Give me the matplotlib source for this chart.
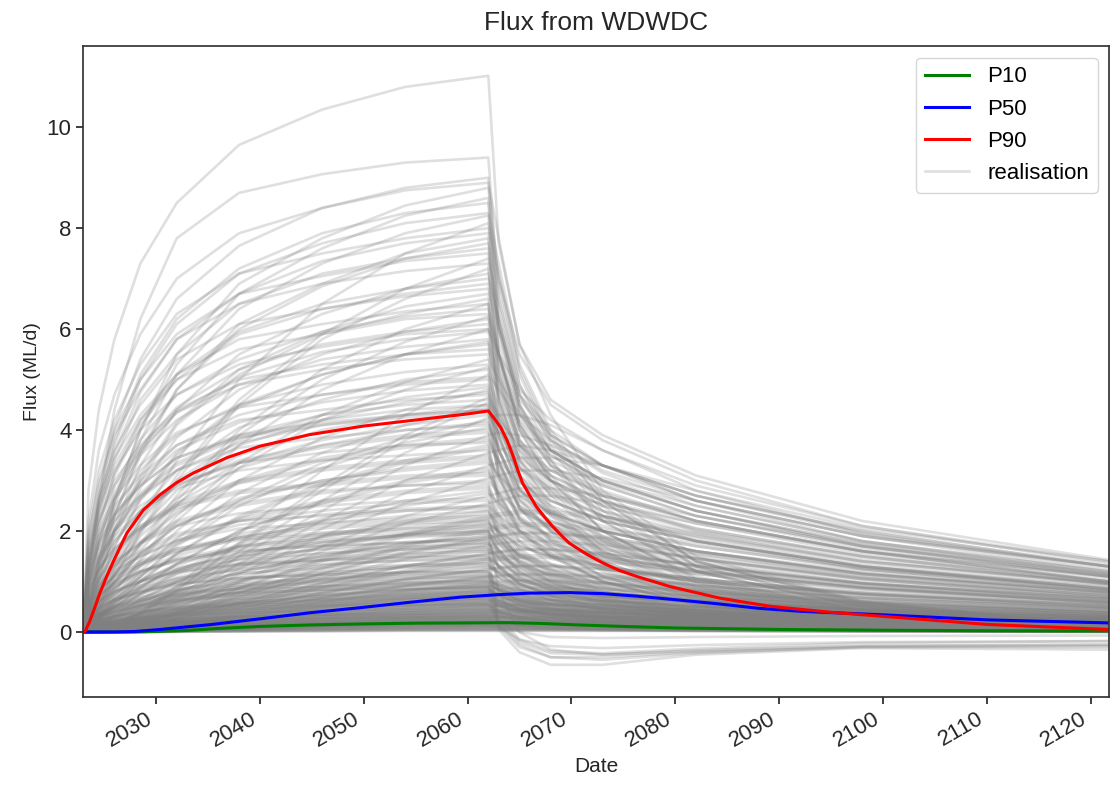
import numpy as np
import pandas as pd
import matplotlib
matplotlib.use('Agg')
import matplotlib.pyplot as plt
import matplotlib.dates as mdates

plt.rcParams['font.family'] = ['Liberation Sans', 'DejaVu Sans']

# sample times (decimal years) shared by every realisation
real_years = [2023.0, 2023.5, 2024.5, 2026, 2028.5, 2032, 2038, 2046, 2054, 2062,
              2063, 2065, 2068, 2073, 2082, 2098, 2121.7]

# flux (ML/d) of each realisation at real_years
realisations = [
    [0, 2.8, 4.4, 5.8, 7.3, 8.5, 9.65, 10.35, 10.8, 11.02, 7.7, 5.7, 4.6, 3.9, 3.1, 2.2, 1.43],
    [0, 1.1, 2.6, 4.4, 6.2, 7.8, 8.7, 9.07, 9.3, 9.4, 6.6, 4.9, 3.9, 3.3, 2.6, 1.9, 1.2],
    [0, 1.35, 2.7, 4.05, 5.4, 6.6, 7.65, 8.4, 8.8, 9.0, 6.3, 4.7, 3.8, 3.15, 2.5, 1.8, 1.2],
    [0, 2.2, 3.6, 4.7, 5.9, 7.0, 7.9, 8.4, 8.75, 8.9, 7.8, 5.7, 4.3, 2.8, 1.5, .6, .13],
    [0, .5, 1.4, 2.6, 4.0, 5.5, 6.9, 7.8, 8.45, 8.8, 7.0, 5.5, 4.5, 3.8, 3.0, 2.1, 1.35],
    [0, 1.3, 2.6, 3.8, 5.1, 6.2, 7.2, 7.9, 8.3, 8.5, 6.0, 4.4, 3.6, 3.0, 2.4, 1.7, 1.1],
    [0, 1.2, 2.5, 3.7, 5.0, 6.1, 7.1, 7.7, 8.1, 8.3, 7.3, 5.3, 4.0, 2.7, 1.4, .6, .12],
    [0, .5, 1.3, 2.5, 3.8, 5.1, 6.4, 7.3, 7.9, 8.25, 5.8, 4.3, 3.5, 2.9, 2.3, 1.65, 1.05],
    [0, 2.0, 3.2, 4.2, 5.3, 6.3, 7.1, 7.5, 7.8, 8.0, 7.0, 5.1, 3.8, 2.6, 1.4, .56, .12],
    [0, .47, 1.25, 2.3, 3.6, 4.8, 6.1, 6.9, 7.5, 7.8, 5.5, 4.1, 3.3, 2.7, 2.2, 1.6, 1.0],
    [0, 1.15, 2.3, 3.4, 4.6, 5.5, 6.5, 7.1, 7.4, 7.6, 6.1, 4.7, 4.0, 3.3, 2.7, 2.0, 1.3],
    [0, .15, .5, 1.1, 2.0, 3.1, 4.6, 5.9, 6.8, 7.4, 6.5, 4.7, 3.6, 2.4, 1.3, .52, .11],
    [0, 1.8, 2.9, 3.9, 4.8, 5.8, 6.5, 6.9, 7.15, 7.3, 5.1, 3.8, 3.1, 2.6, 2.0, 1.5, .95],
    [0, .43, 1.1, 2.1, 3.3, 4.4, 5.5, 6.3, 6.8, 7.1, 6.2, 4.5, 3.4, 2.3, 1.2, .5, .1],
    [0, 1.0, 2.1, 3.1, 4.1, 5.0, 5.9, 6.4, 6.7, 6.9, 5.5, 4.3, 3.6, 3.0, 2.5, 1.8, 1.2],
    [0, 1.7, 2.7, 3.6, 4.5, 5.4, 6.1, 6.4, 6.65, 6.8, 6.0, 4.4, 3.3, 2.2, 1.2, .48, .1],
    [0, .4, 1.05, 2.0, 3.0, 4.1, 5.1, 5.9, 6.3, 6.6, 4.6, 3.4, 2.8, 2.3, 1.85, 1.3, .86],
    [0, .13, .45, 1.0, 1.75, 2.7, 4.0, 5.2, 6.0, 6.5, 5.2, 4.0, 3.4, 2.9, 2.3, 1.7, 1.1],
    [0, .95, 1.9, 2.9, 3.8, 4.7, 5.4, 5.95, 6.25, 6.4, 5.6, 4.1, 3.1, 2.0, 1.1, .45, .1],
    [0, 1.6, 2.5, 3.3, 4.2, 5.0, 5.6, 5.9, 6.2, 6.3, 4.4, 3.3, 2.6, 2.2, 1.8, 1.3, .82],
    [0, .37, 1.0, 1.9, 2.85, 3.85, 4.8, 5.5, 5.95, 6.2, 5.5, 4.0, 3.0, 2.0, 1.05, .43, .09],
    [0, .9, 1.8, 2.75, 3.65, 4.45, 5.2, 5.7, 5.95, 6.1, 4.9, 3.8, 3.2, 2.7, 2.2, 1.6, 1.0],
    [0, .12, .42, .9, 1.6, 2.5, 3.7, 4.8, 5.5, 6.0, 5.3, 3.8, 2.9, 1.9, 1.0, .42, .09],
    [0, 1.5, 2.4, 3.2, 4.0, 4.7, 5.3, 5.65, 5.9, 6.0, 5.5, 4.8, 4.2, 3.6, 2.9, 2.1, 1.4],
    [0, .87, 1.75, 2.6, 3.5, 4.2, 4.9, 5.4, 5.65, 5.8, 4.1, 3.0, 2.4, 2.0, 1.6, 1.15, .75],
    [0, .34, .9, 1.7, 2.6, 3.5, 4.45, 5.1, 5.5, 5.7, 4.6, 3.5, 3.0, 2.5, 2.05, 1.5, .97],
    [0, 1.4, 2.25, 3.0, 3.7, 4.4, 5.0, 5.3, 5.5, 5.6, 4.9, 3.6, 2.7, 1.8, .95, .4, .08],
    [0, .11, .38, .8, 1.45, 2.3, 3.35, 4.3, 4.95, 5.4, 5.0, 4.3, 3.8, 3.2, 2.6, 1.9, 1.3],
    [0, .8, 1.6, 2.4, 3.2, 3.9, 4.5, 4.9, 5.15, 5.3, 4.7, 3.4, 2.5, 1.7, .9, .37, .08],
    [0, .31, .83, 1.55, 2.4, 3.2, 4.05, 4.6, 5.0, 5.2, 3.6, 2.7, 2.2, 1.8, 1.45, 1.05, .68],
    [0, 0, .05, .15, .4, .9, 1.95, 3.2, 4.3, 5.1, 4.8, 4.2, 3.6, 3.0, 2.4, 1.75, 1.15],
    [0, 1.25, 2.0, 2.65, 3.3, 3.95, 4.45, 4.7, 4.9, 5.0, 4.0, 3.1, 2.6, 2.2, 1.8, 1.3, .85],
    [0, .74, 1.47, 2.2, 2.95, 3.6, 4.15, 4.55, 4.78, 4.9, 4.3, 3.1, 2.35, 1.55, .83, .34, .07],
    [0, .1, .34, .72, 1.3, 2.0, 3.0, 3.85, 4.4, 4.8, 3.85, 3.0, 2.5, 2.1, 1.7, 1.25, .82],
    [0, .29, .76, 1.4, 2.2, 2.95, 3.7, 4.2, 4.55, 4.75, 4.2, 3.0, 2.3, 1.5, .8, .33, .07],
    [0, 1.2, 1.9, 2.5, 3.1, 3.7, 4.2, 4.4, 4.6, 4.7, 3.3, 2.45, 2.0, 1.65, 1.3, .94, .61],
    [0, .7, 1.4, 2.05, 2.75, 3.35, 3.9, 4.3, 4.5, 4.6, 4.2, 3.7, 3.2, 2.75, 2.2, 1.6, 1.1],
    [0, 0, .05, .14, .36, .82, 1.73, 2.8, 3.8, 4.55, 4.1, 3.1, 2.4, 1.6, .9, .38, .08],
    [0, .27, .72, 1.35, 2.05, 2.8, 3.5, 4.0, 4.3, 4.5, 3.6, 2.8, 2.35, 2.0, 1.6, 1.2, .77],
    [0, .09, .31, .67, 1.2, 1.85, 2.75, 3.55, 4.1, 4.45, 3.9, 2.85, 2.15, 1.4, .76, .31, .07],
    [0, 1.1, 1.75, 2.35, 2.9, 3.45, 3.9, 4.15, 4.3, 4.4, 3.9, 2.8, 2.1, 1.4, .75, .3, .07],
    [0, .66, 1.3, 2.0, 2.65, 3.2, 3.75, 4.1, 4.3, 4.4, 3.1, 2.3, 1.85, 1.55, 1.25, .9, .57],
    [0, .26, .69, 1.3, 2.0, 2.65, 3.35, 3.8, 4.1, 4.3, 3.95, 3.45, 3.0, 2.6, 2.05, 1.5, 1.0],
    [0, .08, .3, .63, 1.1, 1.75, 2.6, 3.35, 3.85, 4.2, 3.35, 2.6, 2.2, 1.85, 1.5, 1.1, .71],
    [0, 1.0, 1.65, 2.2, 2.7, 3.2, 3.65, 3.85, 4.0, 4.1, 3.6, 2.6, 2.0, 1.3, .7, .29, .06],
    [0, .6, 1.2, 1.8, 2.4, 2.9, 3.4, 3.7, 3.9, 4.0, 3.2, 2.5, 2.1, 1.75, 1.45, 1.05, .68],
    [0, 0, .04, .12, .31, .7, 1.5, 2.4, 3.3, 3.9, 3.95, 3.9, 3.7, 3.3, 2.6, 1.8, 1.15],
    [0, .23, .6, 1.15, 1.75, 2.35, 2.95, 3.4, 3.65, 3.8, 3.35, 2.45, 1.8, 1.2, .65, .27, .06],
    [0, .07, .26, .55, 1.0, 1.55, 2.3, 2.95, 3.4, 3.7, 3.4, 2.95, 2.6, 2.2, 1.8, 1.3, .89],
    [0, .9, 1.45, 1.9, 2.4, 2.85, 3.2, 3.4, 3.5, 3.6, 2.5, 1.9, 1.5, 1.25, 1.0, .72, .47],
    [0, .52, 1.05, 1.6, 2.1, 2.55, 3.0, 3.25, 3.4, 3.5, 3.1, 2.25, 1.7, 1.1, .6, .25, .05],
    [0, .2, .54, 1.0, 1.55, 2.1, 2.65, 3.0, 3.25, 3.4, 2.7, 2.1, 1.75, 1.5, 1.2, .88, .58],
    [0, 0, .03, .1, .26, .6, 1.25, 2.05, 2.75, 3.3, 3.35, 3.45, 3.45, 3.3, 2.8, 2.05, 1.4],
    [0, .06, .22, .48, .86, 1.35, 2.0, 2.55, 2.95, 3.2, 2.8, 2.05, 1.55, 1.0, .55, .22, .05],
    [0, .78, 1.25, 1.65, 2.05, 2.45, 2.75, 2.9, 3.05, 3.1, 2.7, 2.0, 1.5, 1.0, .53, .22, .05],
    [0, .45, .9, 1.35, 1.8, 2.2, 2.55, 2.8, 2.9, 3.0, 2.75, 2.4, 2.1, 1.8, 1.45, 1.05, .72],
    [0, .17, .46, .87, 1.35, 1.8, 2.25, 2.6, 2.8, 2.9, 2.0, 1.5, 1.2, 1.0, .81, .58, .38],
    [0, .06, .2, .42, .76, 1.2, 1.75, 2.25, 2.6, 2.8, 2.25, 1.75, 1.45, 1.25, 1.0, .73, .48],
    [0, 0, .03, .08, .22, .49, 1.0, 1.7, 2.3, 2.7, 2.75, 2.85, 2.85, 2.7, 2.3, 1.7, 1.15],
    [0, .39, .78, 1.15, 1.55, 1.9, 2.2, 2.4, 2.55, 2.6, 2.3, 1.65, 1.25, .83, .44, .18, .04],
    [0, .15, .4, .75, 1.15, 1.55, 1.95, 2.2, 2.4, 2.5, 2.3, 2.0, 1.75, 1.5, 1.2, .88, .6],
    [0, .6, .98, 1.3, 1.6, 1.95, 2.2, 2.3, 2.4, 2.45, 1.95, 1.5, 1.3, 1.1, .88, .64, .42],
    [0, .05, .17, .36, .65, 1.0, 1.5, 1.9, 2.2, 2.4, 2.1, 1.55, 1.15, .77, .41, .17, .04],
    [0, 0, .02, .07, .18, .41, .87, 1.45, 1.95, 2.3, 2.35, 2.4, 2.4, 2.3, 1.95, 1.4, .97],
    [0, .34, .68, 1.0, 1.35, 1.65, 1.9, 2.1, 2.2, 2.25, 1.6, 1.15, .95, .79, .63, .45, .29],
    [0, .13, .35, .66, 1.0, 1.35, 1.7, 1.95, 2.1, 2.2, 1.95, 1.4, 1.05, .7, .37, .15, .03],
    [0, .04, .15, .32, .58, .9, 1.35, 1.7, 1.95, 2.15, 2.0, 1.7, 1.5, 1.3, 1.0, .75, .52],
    [0, .52, .84, 1.1, 1.4, 1.65, 1.85, 1.97, 2.05, 2.1, 1.85, 1.35, 1.0, .67, .36, .15, .03],
    [0, 0, .02, .06, .16, .37, .78, 1.27, 1.72, 2.05, 2.1, 2.15, 2.15, 2.05, 1.75, 1.27, .86],
    [0, .3, .6, .9, 1.2, 1.45, 1.7, 1.85, 1.95, 2.0, 1.6, 1.25, 1.05, .88, .72, .52, .34],
    [0, .12, .31, .58, .9, 1.2, 1.5, 1.75, 1.87, 1.95, 1.8, 1.55, 1.35, 1.15, .93, .68, .47],
    [0, .04, .13, .28, .51, .8, 1.18, 1.5, 1.75, 1.9, 1.65, 1.2, .9, .6, .32, .13, .03],
    [0, 0, .02, .06, .15, .33, .7, 1.15, 1.55, 1.85, 1.9, 1.95, 1.95, 1.85, 1.55, 1.15, .78],
    [0, .45, .72, .95, 1.2, 1.4, 1.6, 1.7, 1.76, 1.8, 1.25, .94, .76, .63, .5, .36, .23],
    [0, .26, .52, .79, 1.05, 1.28, 1.5, 1.63, 1.7, 1.75, 1.55, 1.1, .84, .56, .3, .12, .03],
    [0, .1, .27, .51, .78, 1.05, 1.33, 1.5, 1.63, 1.7, .05, -.4, -.65, -.65, -.45, -.32, -.35],
    [0, .03, .12, .25, .45, .69, 1.02, 1.32, 1.52, 1.65, 1.32, 1.02, .86, .73, .59, .43, .28],
    [0, .1, .26, .48, .74, .99, 1.25, 1.42, 1.54, 1.6, 1.47, 1.28, 1.12, .96, .77, .56, .38],
    [0, 0, .02, .05, .12, .28, .59, .96, 1.3, 1.55, 1.58, 1.63, 1.63, 1.55, 1.32, .96, .65],
    [0, .38, .6, .8, 1.0, 1.18, 1.33, 1.41, 1.47, 1.5, 1.32, .96, .72, .48, .26, .1, .02],
    [0, .22, .44, .65, .87, 1.06, 1.23, 1.35, 1.41, 1.45, 1.16, .9, .75, .64, .52, .38, .25],
    [0, .03, .1, .21, .38, .59, .87, 1.12, 1.29, 1.4, .3, -.15, -.38, -.42, -.33, -.22, -.18],
    [0, .08, .22, .4, .62, .84, 1.05, 1.2, 1.3, 1.35, 1.19, .86, .65, .43, .23, .09, .02],
    [0, .03, .09, .2, .35, .55, .81, 1.04, 1.2, 1.3, 1.2, 1.04, .91, .78, .62, .46, .31],
    [0, 0, .01, .04, .1, .23, .48, .78, 1.05, 1.25, 1.28, 1.31, 1.31, 1.25, 1.06, .78, .53],
    [0, .3, .48, .64, .79, .95, 1.07, 1.13, 1.18, 1.2, .96, .74, .62, .53, .43, .31, .2],
    [0, .17, .35, .52, .69, .84, .98, 1.07, 1.12, 1.15, 1.0, .74, .55, .37, .2, .08, .02],
    [0, .07, .18, .33, .51, .68, .86, .98, 1.06, 1.1, .77, .57, .46, .39, .31, .22, .14],
    [0, 0, .01, .03, .09, .2, .42, .68, .92, 1.1, 1.12, 1.15, 1.15, 1.1, .94, .68, .46],
    [0, .02, .07, .16, .28, .44, .65, .84, .97, 1.05, .84, .65, .55, .46, .38, .27, .18],
    [0, .15, .3, .45, .6, .73, .85, .93, .97, 1.0, .2, -.2, -.42, -.45, -.36, -.27, -.25],
    [0, .06, .16, .3, .46, .62, .78, .89, .96, 1.0, .92, .8, .7, .6, .48, .35, .24],
    [0, 0, .01, .03, .08, .17, .36, .59, .8, .95, .97, 1.0, 1.0, .95, .81, .59, .4],
    [0, .24, .38, .5, .63, .75, .85, .89, .93, .95, .84, .61, .46, .3, .16, .07, .01],
    [0, .02, .06, .14, .24, .38, .56, .72, .83, .9, .83, .72, .63, .54, .43, .32, .22],
    [0, .14, .27, .41, .54, .66, .77, .84, .88, .9, .72, .56, .47, .4, .32, .23, .15],
    [0, .05, .14, .26, .39, .53, .66, .76, .82, .85, .75, .54, .41, .27, .14, .06, .01],
    [0, 0, .01, .03, .07, .15, .32, .53, .71, .85, .87, .89, .89, .85, .72, .53, .36],
    [0, .02, .06, .12, .22, .34, .5, .64, .74, .8, .64, .5, .42, .35, .29, .21, .14],
    [0, .2, .32, .42, .53, .63, .71, .75, .78, .8, .56, .42, .34, .28, .22, .16, .1],
    [0, 0, .01, .02, .06, .14, .3, .48, .66, .78, .8, .82, .82, .78, .66, .48, .33],
    [0, .05, .12, .23, .35, .47, .59, .67, .72, .75, .69, .6, .53, .45, .36, .26, .18],
    [0, .01, .05, .11, .19, .3, .45, .58, .66, .72, .74, .76, .76, .72, .61, .45, .3],
    [0, .11, .21, .32, .42, .51, .6, .65, .68, .7, .62, .45, .34, .22, .12, .05, .01],
    [0, 0, .01, .02, .05, .12, .26, .42, .57, .68, .69, .71, .71, .68, .58, .42, .29],
    [0, .04, .11, .2, .3, .41, .51, .59, .63, .66, .53, .41, .34, .29, .24, .17, .11],
    [0, .01, .04, .1, .17, .27, .4, .51, .59, .64, .59, .51, .45, .38, .31, .22, .15],
    [0, 0, .01, .02, .05, .11, .24, .38, .52, .62, .63, .65, .65, .62, .53, .38, .26],
    [0, .15, .24, .32, .4, .47, .53, .56, .59, .6, .53, .38, .29, .19, .1, .04, .01],
    [0, .03, .09, .17, .27, .36, .45, .52, .56, .58, .59, .61, .61, .58, .49, .36, .24],
    [0, .01, .04, .08, .15, .24, .35, .45, .52, .56, .52, .45, .39, .34, .27, .2, .13],
    [0, 0, .01, .02, .04, .1, .21, .34, .46, .55, .56, .58, .58, .55, .47, .34, .23],
    [0, .08, .16, .24, .32, .39, .45, .49, .52, .53, .42, .33, .28, .23, .19, .14, .09],
    [0, .01, .04, .08, .14, .22, .32, .42, .48, .52, .53, .55, .55, .52, .44, .32, .22],
    [0, 0, .01, .02, .04, .09, .19, .31, .42, .5, .51, .53, .53, .5, .43, .31, .21],
    [0, .03, .08, .14, .22, .3, .37, .43, .46, .48, .44, .38, .34, .29, .23, .17, .12],
    [0, .01, .03, .07, .12, .19, .29, .37, .42, .46, .4, .29, .22, .15, .08, .03, .01],
    [0, 0, 0, .01, .04, .08, .17, .28, .38, .45, .46, .47, .47, .45, .38, .28, .19],
    [0, .11, .17, .23, .28, .34, .38, .4, .42, .43, .34, .27, .22, .19, .15, .11, .07],
    [0, .01, .03, .06, .11, .18, .26, .34, .39, .42, .43, .44, .44, .42, .36, .26, .18],
    [0, 0, 0, .01, .03, .07, .15, .25, .34, .4, .41, .42, .42, .4, .34, .25, .17],
    [0, .02, .06, .11, .17, .24, .3, .34, .36, .38, .35, .3, .27, .23, .18, .13, .09],
    [0, .01, .03, .06, .1, .16, .23, .3, .34, .37, .38, .39, .39, .37, .31, .23, .16],
    [0, 0, 0, .01, .03, .06, .13, .22, .29, .35, .36, .37, .37, .35, .3, .22, .15],
    [0, .05, .1, .15, .2, .25, .29, .32, .33, .34, .3, .22, .16, .11, .06, .02, .01],
    [0, .01, .02, .05, .09, .13, .2, .26, .29, .32, .29, .26, .22, .19, .15, .11, .08],
    [0, 0, 0, .01, .02, .06, .12, .19, .26, .31, .32, .33, .33, .31, .26, .19, .13],
    [0, .02, .05, .09, .14, .19, .23, .27, .29, .3, .31, .32, .32, .3, .26, .19, .13],
    [0, .01, .02, .04, .08, .12, .17, .22, .26, .28, .29, .29, .29, .28, .24, .17, .12],
    [0, 0, 0, .01, .02, .05, .1, .17, .23, .27, .28, .28, .28, .27, .23, .17, .11],
    [0, .06, .1, .13, .17, .2, .22, .24, .25, .25, .23, .2, .18, .15, .12, .09, .06],
    [0, 0, .02, .04, .06, .1, .15, .19, .22, .24, .24, .25, .25, .24, .2, .15, .1],
    [0, 0, 0, .01, .02, .04, .09, .14, .19, .23, .23, .24, .24, .23, .2, .14, .1],
    [0, .01, .04, .07, .1, .14, .17, .2, .21, .22, .19, .14, .11, .07, .04, .02, 0],
    [0, 0, .01, .03, .05, .08, .12, .16, .18, .2, .2, .21, .21, .2, .17, .12, .08],
    [0, 0, 0, .01, .02, .03, .07, .12, .16, .19, .19, .2, .2, .19, .16, .12, .08],
    [0, .03, .05, .08, .11, .13, .15, .17, .18, .18, .17, .14, .13, .11, .09, .06, .04],
    [0, 0, .01, .03, .05, .07, .11, .14, .16, .17, .17, .18, .18, .17, .14, .11, .07],
    [0, 0, 0, 0, .01, .03, .06, .1, .13, .16, .16, .17, .17, .16, .14, .1, .07],
    [0, .01, .02, .05, .07, .09, .12, .13, .14, .15, .14, .12, .11, .09, .07, .05, .04],
    [0, 0, .01, .02, .04, .06, .09, .11, .13, .14, .14, .15, .15, .14, .12, .09, .06],
    [0, 0, 0, 0, .01, .02, .05, .07, .1, .12, .12, .13, .13, .12, .1, .07, .05],
    [0, 0, .01, .02, .03, .05, .07, .09, .1, .11, .1, .09, .08, .07, .05, .04, .03],
    [0, 0, 0, 0, .01, .02, .04, .06, .08, .1, .1, .11, .11, .1, .09, .06, .04],
    [0, 0, .01, .02, .04, .05, .06, .07, .08, .08, .08, .08, .08, .08, .07, .05, .03],
    [0, 0, 0, 0, 0, .01, .02, .04, .05, .06, .06, .06, .06, .06, .05, .04, .03],
    [0, 0, 0, .01, .01, .02, .03, .04, .05, .05, .05, .04, .04, .03, .02, .02, .01],
    [0, 0, 0, 0, 0, .01, .01, .02, .03, .03, .03, .03, .03, .03, .03, .02, .01],
    [0, .12, .32, .6, .92, 1.24, 1.56, 1.78, 1.92, 2.0, .8, 0, -.35, -.45, -.38, -.28, -.25],
    [0, .02, .06, .14, .24, .38, .56, .72, .83, .9, .1, -.3, -.5, -.5, -.4, -.3, -.28],
    [0, .52, 1.4, 2.6, 4.0, 5.3, 6.7, 7.6, 8.25, 8.6, 6.1, 4.5, 3.6, 3.0, 2.4, 1.7, 1.1],
    [0, .16, .57, 1.2, 2.2, 3.4, 5.0, 6.5, 7.5, 8.1, 7.1, 5.2, 3.9, 2.6, 1.4, .57, .12],
    [0, 1.2, 2.4, 3.55, 4.75, 5.8, 6.7, 7.35, 7.7, 7.9, 5.5, 4.1, 3.3, 2.8, 2.2, 1.6, 1.0],
    [0, .46, 1.2, 2.3, 3.5, 4.8, 6.0, 6.85, 7.4, 7.7, 6.8, 4.9, 3.7, 2.5, 1.3, .54, .12],
    [0, 1.9, 3.0, 4.0, 5.0, 5.9, 6.7, 7.05, 7.35, 7.5, 6.0, 4.6, 3.9, 3.3, 2.7, 1.95, 1.3],
    [0, .14, .5, 1.1, 1.95, 3.0, 4.5, 5.8, 6.6, 7.2, 5.0, 3.7, 3.0, 2.5, 2.0, 1.45, .94],
    [0, 1.05, 2.1, 3.15, 4.2, 5.1, 5.95, 6.5, 6.8, 7.0, 6.2, 4.5, 3.4, 2.2, 1.2, .5, .1],
    [0, .4, 1.07, 2.0, 3.1, 4.15, 5.2, 5.95, 6.45, 6.7, 5.4, 4.15, 3.5, 2.95, 2.4, 1.75, 1.15],
    [0, 1.6, 2.6, 3.45, 4.3, 5.1, 5.8, 6.1, 6.35, 6.5, 4.55, 3.4, 2.7, 2.3, 1.8, 1.3, .85],
    [0, .12, .44, .94, 1.7, 2.6, 3.9, 5.0, 5.75, 6.25, 5.5, 4.0, 3.0, 2.0, 1.05, .44, .09],
    [0, .9, 1.8, 2.7, 3.55, 4.35, 5.05, 5.55, 5.8, 5.95, 4.75, 3.7, 3.1, 2.6, 2.15, 1.55, 1.0],
    [0, .35, .92, 1.7, 2.65, 3.55, 4.5, 5.1, 5.5, 5.75, 5.1, 3.7, 2.8, 1.85, .98, .4, .09],
    [0, 1.4, 2.2, 2.9, 3.6, 4.35, 4.9, 5.2, 5.4, 5.5, 3.85, 2.85, 2.3, 1.9, 1.55, 1.1, .72],
    [0, .1, .37, .8, 1.4, 2.2, 3.25, 4.2, 4.8, 5.25, 4.2, 3.25, 2.75, 2.3, 1.9, 1.35, .9],
    [0, .76, 1.5, 2.3, 3.0, 3.7, 4.3, 4.7, 4.95, 5.05, 4.45, 3.25, 2.45, 1.6, .86, .35, .07],
    [0, .29, .78, 1.45, 2.25, 3.0, 3.8, 4.3, 4.65, 4.85, 3.4, 2.5, 2.05, 1.7, 1.35, .97, .63],
    [0, 0, .05, .14, .37, .84, 1.77, 2.9, 3.9, 4.65, 4.3, 3.6, 3.0, 2.4, 1.8, 1.25, .8],
    [0, .68, 1.35, 2.0, 2.7, 3.3, 3.85, 4.2, 4.4, 4.5, 3.6, 2.8, 2.35, 2.0, 1.6, 1.15, .76],
    [0, 1.1, 1.75, 2.3, 2.9, 3.45, 3.85, 4.1, 4.25, 4.35, 3.05, 2.25, 1.8, 1.5, 1.2, .87, .57],
    [0, 0, .04, .13, .34, .77, 1.6, 2.6, 3.55, 4.25, 4.3, 4.3, 4.1, 3.6, 2.8, 1.95, 1.25],
    [0, .25, .66, 1.25, 1.9, 2.55, 3.25, 3.7, 4.0, 4.15, 3.65, 2.65, 2.0, 1.35, .7, .29, .06],
    [0, .08, .28, .6, 1.1, 1.7, 2.5, 3.25, 3.75, 4.05, 3.7, 3.25, 2.85, 2.4, 1.95, 1.4, .95],
    [0, .6, 1.2, 1.8, 2.35, 2.9, 3.35, 3.65, 3.85, 3.95, 3.15, 2.45, 2.05, 1.75, 1.4, 1.0, .67],
    [0, .23, .62, 1.15, 1.75, 2.4, 3.0, 3.45, 3.7, 3.85, 3.4, 2.45, 1.85, 1.25, .65, .27, .06],
    [0, .95, 1.5, 2.0, 2.5, 2.95, 3.35, 3.55, 3.7, 3.75, 2.6, 1.95, 1.6, 1.3, 1.05, .75, .49],
    [0, .07, .26, .55, 1.0, 1.55, 2.25, 2.9, 3.35, 3.65, 2.9, 2.25, 1.9, 1.6, 1.3, .95, .62],
    [0, 0, .04, .11, .28, .64, 1.35, 2.2, 3.0, 3.55, 3.6, 3.7, 3.6, 3.3, 2.7, 2.0, 1.3],
    [0, .52, 1.05, 1.55, 2.05, 2.5, 2.95, 3.2, 3.35, 3.45, 3.05, 2.2, 1.65, 1.1, .59, .24, .05],
    [0, .2, .54, 1.0, 1.55, 2.1, 2.6, 3.0, 3.2, 3.35, 3.1, 2.7, 2.35, 2.0, 1.6, 1.15, .8],
    [0, .07, .23, .49, .88, 1.35, 2.0, 2.6, 3.0, 3.25, 2.6, 2.0, 1.7, 1.45, 1.15, .85, .55],
    [0, .8, 1.25, 1.65, 2.1, 2.5, 2.8, 2.95, 3.1, 3.15, 2.75, 2.0, 1.5, 1.0, .54, .22, .05],
    [0, 0, .03, .09, .24, .55, 1.15, 1.9, 2.55, 3.05, 3.1, 3.2, 3.2, 3.05, 2.6, 1.9, 1.3],
    [0, .44, .88, 1.33, 1.77, 2.15, 2.5, 2.75, 2.9, 2.95, 2.35, 1.8, 1.55, 1.3, 1.05, .77, .5],
    [0, .17, .46, .85, 1.3, 1.75, 2.2, 2.55, 2.75, 2.85, 2.5, 1.8, 1.35, .9, .48, .2, .04],
    [0, .06, .19, .41, .74, 1.15, 1.7, 2.2, 2.5, 2.75, 2.55, 2.2, 1.9, 1.65, 1.3, .96, .66],
    [0, .66, 1.06, 1.4, 1.75, 2.1, 2.35, 2.5, 2.6, 2.65, 1.85, 1.4, 1.1, .93, .74, .53, .34],
    [0, 0, .03, .08, .2, .46, .97, 1.6, 2.15, 2.55, 2.6, 2.7, 2.7, 2.55, 2.15, 1.6, 1.1],
    [0, .38, .75, 1.13, 1.5, 1.83, 2.12, 2.33, 2.44, 2.5, 2.2, 1.6, 1.2, .8, .43, .17, .04],
    [0, .14, .38, .72, 1.1, 1.5, 1.87, 2.15, 2.3, 2.4, 1.9, 1.5, 1.25, 1.05, .86, .62, .41],
    [0, .05, .16, .35, .63, .99, 1.45, 1.88, 2.15, 2.35, 2.15, 1.9, 1.65, 1.4, 1.15, .82, .56],
    [0, .58, .92, 1.22, 1.5, 1.8, 2.05, 2.15, 2.25, 2.3, 2.0, 1.45, 1.1, .74, .39, .16, .03],
    [0, 0, .02, .07, .18, .4, .86, 1.4, 1.9, 2.25, 2.3, 2.35, 2.35, 2.25, 1.9, 1.4, .95],
    [0, .33, .66, 1.0, 1.32, 1.6, 1.87, 2.05, 2.15, 2.2, 1.75, 1.35, 1.15, .97, .79, .57, .37],
    [0, .13, .34, .65, .99, 1.33, 1.68, 1.9, 2.05, 2.15, 2.0, 1.7, 1.5, 1.3, 1.0, .75, .52],
    [0, .04, .15, .32, .57, .88, 1.3, 1.68, 1.93, 2.1, 1.85, 1.35, 1.0, .67, .36, .15, .03],
    [0, .51, .82, 1.09, 1.35, 1.6, 1.82, 1.93, 2.0, 2.05, 1.45, 1.05, .86, .72, .57, .41, .27],
    [0, 0, .02, .06, .16, .36, .76, 1.24, 1.68, 2.0, 2.05, 2.1, 2.1, 2.0, 1.7, 1.24, .84],
    [0, .12, .32, .6, .92, 1.24, 1.56, 1.78, 1.92, 2.0, 1.75, 1.28, .96, .64, .34, .14, .03],
    [0, .29, .59, .88, 1.17, 1.42, 1.66, 1.81, 1.9, 1.95, 1.56, 1.21, 1.01, .86, .7, .51, .33],
    [0, .04, .13, .29, .51, .8, 1.18, 1.52, 1.75, 1.9, 1.75, 1.52, 1.33, 1.14, .91, .67, .46],
    [0, 0, .02, .06, .15, .34, .71, 1.17, 1.58, 1.88, 1.92, 1.97, 1.97, 1.88, 1.6, 1.17, .79],
    [0, .11, .3, .55, .85, 1.15, 1.44, 1.65, 1.78, 1.85, 1.63, 1.18, .89, .59, .31, .13, .03],
    [0, .45, .73, .96, 1.2, 1.44, 1.62, 1.71, 1.78, 1.82, 1.27, .95, .76, .64, .51, .36, .24],
    [0, .04, .12, .27, .48, .75, 1.1, 1.42, 1.64, 1.78, 1.42, 1.1, .93, .78, .64, .46, .3],
    [0, 0, .02, .05, .14, .31, .65, 1.07, 1.44, 1.72, 1.75, 1.8, 1.8, 1.72, 1.46, 1.07, .72],
    [0, .25, .5, .76, 1.01, 1.23, 1.43, 1.56, 1.64, 1.68, 1.48, 1.07, .81, .54, .29, .12, .03],
    [0, .1, .26, .49, .75, 1.02, 1.28, 1.46, 1.57, 1.64, 1.51, 1.31, 1.15, .98, .79, .57, .39],
    [0, .03, .11, .24, .43, .67, .99, 1.28, 1.47, 1.6, 1.28, .99, .83, .7, .58, .42, .27],
    [0, 0, .02, .05, .12, .28, .59, .97, 1.31, 1.56, 1.59, 1.64, 1.64, 1.56, 1.33, .97, .66],
    [0, .38, .61, .81, 1.0, 1.2, 1.35, 1.43, 1.49, 1.52, 1.06, .79, .64, .53, .43, .3, .2],
    [0, .09, .24, .44, .68, .92, 1.15, 1.32, 1.42, 1.48, 1.3, .95, .71, .47, .25, .1, .02],
    [0, .03, .1, .22, .39, .6, .89, 1.15, 1.32, 1.44, 1.32, 1.15, 1.01, .86, .69, .5, .35],
    [0, 0, .01, .04, .11, .25, .53, .87, 1.18, 1.4, 1.43, 1.47, 1.47, 1.4, 1.19, .87, .59],
    [0, .2, .41, .61, .82, .99, 1.16, 1.26, 1.33, 1.36, 1.09, .84, .71, .6, .49, .35, .23],
    [0, .08, .21, .4, .61, .82, 1.03, 1.17, 1.27, 1.32, 1.16, .84, .63, .42, .22, .09, .02],
    [0, .03, .09, .19, .35, .54, .79, 1.02, 1.18, 1.28, 1.18, 1.02, .9, .77, .61, .45, .31],
    [0, 0, .01, .04, .1, .22, .47, .77, 1.04, 1.24, 1.26, 1.3, 1.3, 1.24, 1.05, .77, .52],
    [0, .3, .48, .64, .79, .95, 1.07, 1.13, 1.18, 1.2, .84, .62, .5, .42, .34, .24, .16],
    [0, .07, .19, .35, .53, .72, .9, 1.03, 1.11, 1.16, 1.07, .93, .81, .7, .56, .41, .28],
    [0, .02, .08, .17, .3, .47, .69, .9, 1.03, 1.12, .9, .69, .58, .49, .4, .29, .19],
    [0, 0, .01, .03, .09, .19, .41, .67, .91, 1.08, 1.1, 1.13, 1.13, 1.08, .92, .67, .45],
    [0, .16, .32, .47, .63, .77, .89, .98, 1.02, 1.05, .92, .67, .5, .34, .18, .07, .02],
    [0, .06, .16, .31, .47, .63, .8, .91, .98, 1.02, .94, .82, .71, .61, .49, .36, .24],
    [0, .02, .07, .15, .27, .42, .62, .8, .92, 1.0, .8, .62, .52, .44, .36, .26, .17],
    [0, 0, .01, .03, .08, .18, .37, .61, .82, .98, 1.0, 1.03, 1.03, .98, .83, .61, .41],
    [0, .06, .15, .29, .44, .59, .74, .85, .91, .95, .84, .61, .46, .3, .16, .07, .01],
    [0, .02, .06, .14, .25, .39, .57, .74, .85, .92, .85, .74, .64, .55, .44, .32, .22],
    [0, 0, .01, .03, .07, .16, .34, .56, .76, .9, .92, .95, .95, .9, .77, .56, .38],
    [0, .22, .35, .47, .58, .7, .78, .83, .86, .88, .62, .46, .37, .31, .25, .18, .11],
    [0, .13, .26, .39, .52, .63, .73, .8, .84, .86, .69, .53, .45, .38, .31, .22, .15],
    [0, .02, .06, .13, .23, .35, .52, .67, .77, .84, .74, .54, .4, .27, .14, .06, .01],
    [0, 0, .01, .02, .07, .15, .31, .51, .69, .82, .84, .86, .86, .82, .7, .51, .34],
    [0, .05, .13, .24, .37, .5, .62, .71, .77, .8, .74, .64, .56, .48, .38, .28, .19],
    [0, .07, .19, .36, .55, .74, .94, 1.07, 1.15, 1.2, .15, -.25, -.5, -.55, -.42, -.3, -.3],
    [0, .04, .11, .21, .32, .43, .55, .62, .67, .7, .1, -.15, -.28, -.32, -.26, -.2, -.18],
    [0, .1, .28, .52, .8, 1.08, 1.37, 1.56, 1.68, 1.75, 1.61, 1.4, 1.23, 1.05, .84, .61, .42],
    [0, 0, .01, .04, .12, .26, .55, .9, 1.22, 1.45, 1.48, 1.52, 1.52, 1.45, 1.23, .9, .61],
    [0, .17, .33, .5, .66, .8, .94, 1.02, 1.07, 1.1, .88, .68, .57, .48, .4, .29, .19],
    [0, .02, .05, .12, .21, .33, .48, .62, .72, .78, .72, .62, .55, .47, .37, .27, .19],
    [0, 0, .01, .02, .06, .14, .29, .47, .64, .76, .78, .8, .8, .76, .65, .47, .32],
    [0, .19, .3, .39, .49, .58, .66, .7, .73, .74, .65, .47, .36, .24, .13, .05, .01],
    [0, .04, .12, .22, .33, .45, .56, .64, .69, .72, .58, .45, .37, .32, .26, .19, .12],
    [0, .01, .05, .11, .19, .29, .43, .56, .64, .7, .71, .73, .73, .7, .6, .43, .29],
    [0, 0, .01, .02, .05, .12, .26, .42, .57, .68, .6, .44, .33, .22, .12, .05, .01],
    [0, .1, .2, .3, .4, .48, .56, .61, .64, .66, .53, .41, .34, .29, .24, .17, .11],
    [0, .01, .04, .1, .17, .27, .4, .51, .59, .64, .65, .67, .67, .64, .54, .4, .27],
    [0, .04, .1, .19, .29, .38, .48, .55, .6, .62, .57, .5, .43, .37, .3, .22, .15],
    [0, 0, .01, .02, .05, .11, .23, .37, .5, .6, .61, .63, .63, .6, .51, .37, .25],
    [0, .01, .04, .09, .16, .24, .36, .46, .53, .58, .51, .37, .28, .19, .1, .04, .01],
    [0, .14, .22, .3, .37, .44, .5, .53, .55, .56, .39, .29, .24, .2, .16, .11, .07],
    [0, 0, .01, .02, .04, .1, .21, .33, .45, .54, .55, .57, .57, .54, .46, .33, .23],
    [0, .03, .08, .16, .24, .32, .41, .46, .5, .52, .48, .42, .36, .31, .25, .18, .12],
    [0, .01, .04, .08, .14, .21, .31, .4, .46, .5, .51, .53, .53, .5, .43, .31, .21],
    [0, 0, 0, .01, .04, .09, .18, .3, .4, .48, .49, .5, .5, .48, .41, .3, .2],
    [0, .07, .14, .21, .28, .34, .39, .43, .45, .46, .4, .29, .22, .15, .08, .03, .01],
    [0, .01, .03, .07, .12, .18, .27, .35, .4, .44, .45, .46, .46, .44, .37, .27, .18],
    [0, 0, 0, .01, .03, .08, .16, .26, .35, .42, .43, .44, .44, .42, .36, .26, .18],
    [0, .02, .07, .12, .19, .25, .32, .36, .39, .41, .38, .33, .29, .25, .2, .14, .1],
    [0, .01, .03, .06, .11, .16, .24, .31, .36, .39, .4, .41, .41, .39, .33, .24, .16],
    [0, 0, 0, .01, .03, .07, .14, .24, .32, .38, .39, .4, .4, .38, .32, .24, .16],
    [0, .09, .14, .19, .24, .28, .32, .34, .35, .36, .32, .23, .17, .12, .06, .03, .01],
    [0, .01, .02, .05, .09, .15, .22, .28, .32, .35, .36, .37, .37, .35, .3, .22, .15],
    [0, 0, 0, .01, .03, .06, .13, .2, .28, .33, .34, .35, .35, .33, .28, .2, .14],
    [0, .02, .05, .1, .15, .2, .25, .28, .31, .32, .29, .26, .22, .19, .15, .11, .08],
    [0, .01, .02, .05, .08, .13, .19, .24, .28, .3, .31, .32, .32, .3, .26, .19, .13],
    [0, 0, 0, .01, .02, .05, .11, .18, .24, .29, .3, .3, .3, .29, .25, .18, .12],
    [0, .04, .08, .12, .16, .2, .23, .25, .26, .27, .22, .17, .14, .12, .1, .07, .05],
    [0, .01, .02, .04, .07, .11, .16, .21, .24, .26, .27, .27, .27, .26, .22, .16, .11],
    [0, 0, 0, .01, .02, .05, .1, .16, .21, .25, .26, .26, .26, .25, .21, .16, .11],
    [0, .01, .04, .07, .11, .14, .18, .2, .22, .23, .21, .18, .16, .14, .11, .08, .06],
    [0, 0, .02, .03, .06, .09, .14, .18, .2, .22, .22, .23, .23, .22, .19, .14, .09],
    [0, 0, 0, .01, .02, .04, .08, .13, .18, .21, .21, .22, .22, .21, .18, .13, .09],
    [0, .05, .08, .11, .13, .16, .18, .19, .2, .2, .18, .13, .1, .06, .03, .01, 0],
    [0, 0, .01, .03, .05, .08, .12, .15, .17, .19, .19, .2, .2, .19, .16, .12, .08],
    [0, 0, 0, .01, .01, .03, .07, .11, .15, .18, .18, .19, .19, .18, .15, .11, .08],
    [0, .01, .03, .05, .07, .1, .12, .14, .15, .16, .15, .13, .11, .1, .08, .06, .04],
    [0, 0, .01, .02, .04, .06, .09, .12, .14, .15, .15, .16, .16, .15, .13, .09, .06],
    [0, 0, 0, 0, .01, .03, .05, .09, .12, .14, .14, .15, .15, .14, .12, .09, .06],
    [0, .02, .04, .06, .08, .09, .11, .12, .13, .13, .1, .08, .07, .06, .05, .03, .02],
    [0, 0, .01, .02, .03, .05, .07, .1, .11, .12, .12, .13, .13, .12, .1, .07, .05],
    [0, 0, 0, 0, .01, .02, .04, .06, .08, .1, .1, .1, .1, .1, .09, .06, .04],
    [0, .01, .01, .03, .04, .06, .07, .08, .09, .09, .08, .07, .06, .05, .04, .03, .02],
    [0, 0, 0, .01, .02, .03, .04, .06, .07, .07, .07, .07, .07, .07, .06, .04, .03],
    [0, 0, 0, 0, 0, .01, .02, .03, .04, .05, .05, .05, .05, .05, .04, .03, .02],
    [0, 0, 0, .01, .01, .01, .02, .03, .04, .04, .04, .04, .04, .04, .03, .02, .02],
    [0, 0, 0, 0, 0, 0, .01, .01, .02, .02, .02, .02, .02, .02, .02, .01, .01],
    [0, .03, .09, .17, .26, .35, .44, .5, .53, .55, .2, 0, -.1, -.12, -.1, -.08, -.07],
    [0, .02, .05, .09, .14, .19, .24, .27, .29, .3, .2, .12, .07, .04, .02, .01, 0],
]

# P10 / P50 / P90 realisations
p10_years = [2023.0, 2028, 2030, 2033, 2036, 2040, 2045, 2050, 2055, 2060, 2064, 2067,
             2070, 2075, 2080, 2090, 2100, 2110, 2121.7]
p10 = [0, 0, .01, .03, .07, .11, .14, .16, .175, .18, .185, .17,
       .145, .11, .08, .05, .035, .025, .02]

p50_years = [2023.0, 2026, 2028, 2030.4, 2035.2, 2040, 2044.8, 2049.6, 2054.5, 2059.3,
             2063, 2066, 2069.8, 2073, 2076.3, 2080, 2084, 2088, 2092, 2100, 2110, 2121.7]
p50 = [0, 0, .01, .05, .145, .26, .38, .48, .59, .69,
       .74, .77, .78, .76, .71, .64, .56, .47, .41, .34, .24, .18]

p90_years = [2023.0, 2023.2, 2023.6, 2024.0, 2024.6, 2025.25, 2025.9, 2027.2, 2028.8,
             2030.4, 2032, 2033.6, 2036.8, 2040, 2044.8, 2050, 2055, 2060, 2062.0,
             2062.6, 2063.2, 2063.8, 2064.4, 2064.85, 2065.3, 2066, 2066.6, 2067.4,
             2068.2, 2069, 2069.8, 2071.4, 2073, 2074.6, 2076.3, 2079.5, 2084.3,
             2089.1, 2095, 2100, 2110, 2121.7]
p90 = [0, .02, .2, .42, .77, 1.1, 1.4, 1.96, 2.42,
       2.72, 2.96, 3.15, 3.45, 3.68, 3.91, 4.08, 4.2, 4.32, 4.38,
       4.22, 4.05, 3.8, 3.48, 3.2, 2.95, 2.7, 2.49, 2.28,
       2.09, 1.92, 1.76, 1.55, 1.37, 1.22, 1.10, .90, .67,
       .51, .39, .31, .15, .05]


def to_dates(years):
    # decimal years -> timestamps
    years = np.asarray(years, dtype=float)
    whole = np.floor(years).astype(int)
    start = pd.to_datetime(whole.astype(str), format='%Y')
    return start + pd.to_timedelta((years - whole) * 365.25, unit='D')


fig = plt.figure(figsize=(11.1, 7.88), dpi=100)
ax = fig.add_axes([0.075, 0.116, 0.924, 0.825])

real_dates = to_dates(real_years)
for i, row in enumerate(realisations):
    ax.plot(real_dates, row, color='gray', alpha=0.25, lw=1.9,
            label='realisation' if i == 0 else None)

ax.plot(to_dates(p10_years), p10, color='green', lw=2.2, label='P10')
ax.plot(to_dates(p50_years), p50, color='blue', lw=2.2, label='P50')
ax.plot(to_dates(p90_years), p90, color='red', lw=2.2, label='P90')

ax.set_xlim(to_dates([2023.0])[0], to_dates([2121.75])[0])
ax.set_ylim(-1.28, 11.6)
ax.xaxis.set_major_locator(mdates.YearLocator(10))
ax.xaxis.set_major_formatter(mdates.DateFormatter('%Y'))
ax.set_yticks([0, 2, 4, 6, 8, 10])
plt.setp(ax.get_xticklabels(), rotation=30, ha='right')

ax.tick_params(labelsize=16, length=5, width=1.25, color='.15', labelcolor='.15')
for sp in ax.spines.values():
    sp.set_color('.2')
    sp.set_linewidth(1.25)

ax.set_xlabel('Date', fontsize=15, color='.15')
ax.set_ylabel('Flux (ML/d)', fontsize=14, color='.15')
ax.set_title('Flux from WDWDC', fontsize=19, color='.15', pad=12)

handles, labels = ax.get_legend_handles_labels()
order = [labels.index(k) for k in ['P10', 'P50', 'P90', 'realisation']]
leg = ax.legend([handles[k] for k in order], [labels[k] for k in order],
                loc='upper right', fontsize=16, frameon=True, fancybox=True)
leg.get_frame().set_edgecolor('0.8')

fig.savefig('out.png', dpi=100)
